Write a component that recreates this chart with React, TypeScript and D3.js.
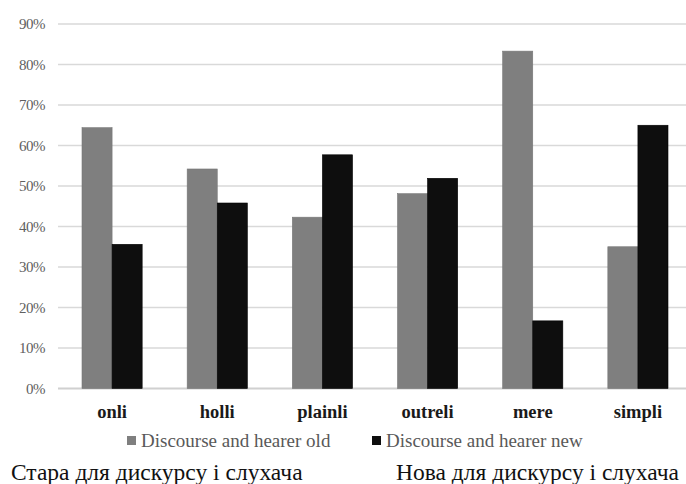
import React from "react";
import * as d3 from "d3";

const categories = ["onli", "holli", "plainli", "outreli", "mere", "simpli"];
const seriesNames = ["Discourse and hearer old", "Discourse and hearer new"];
const oldValues = [64.4, 54.2, 42.3, 48.1, 83.3, 35.0];
const newValues = [35.6, 45.8, 57.7, 51.9, 16.7, 65.0];
const yTicks = [0, 10, 20, 30, 40, 50, 60, 70, 80, 90];
const captions = ["Стара для дискурсу і слухача", "Нова для дискурсу і слухача"];
const colors = ["#7f7f7f", "#0e0e0e"];

const SERIF = "Liberation Serif";

export default function App() {
  const W = 686, H = 484;
  const x = d3.scaleBand<string>().domain(categories).range([59.5, 690.5]).paddingInner(0.428).paddingOuter(0.214);
  const sub = d3.scaleBand<number>().domain([0, 1]).range([0, x.bandwidth()]);
  const y = d3.scaleLinear().domain([0, 90]).range([388.5, 24]);
  const series = [oldValues, newValues];

  return (
    <svg width={W} height={H} style={{ position: "absolute", left: 0, top: 0, background: "#fff" }}>
      {yTicks.map((t) => (
        <g key={t}>
          <line x1={58} x2={W} y1={y(t)} y2={y(t)} stroke={t === 0 ? "#d0d0d0" : "#d9d9d9"} strokeWidth={t === 0 ? 2 : 1.5} />
          <text x={45} y={y(t)} dy="0.35em" textAnchor="end" fontFamily={SERIF} fontSize={15} fill="#606060" letterSpacing={-0.5}>
            {t}%
          </text>
        </g>
      ))}
      {categories.map((c, i) => (
        <g key={c}>
          {series.map((vals, s) => (
            <rect
              key={s}
              x={(x(c) as number) + (sub(s) as number)}
              y={y(vals[i])}
              width={sub.bandwidth()}
              height={y(0) - y(vals[i])}
              fill={colors[s]}
              stroke={s === 0 ? "#777" : "#000"}
              strokeWidth={0.6}
            />
          ))}
          <text x={(x(c) as number) + x.bandwidth() / 2} y={418} textAnchor="middle" fontFamily={SERIF} fontSize={18.5} fontWeight="bold" fill="#1a1a1a">
            {c}
          </text>
        </g>
      ))}
      {seriesNames.map((n, s) => {
        const lx = s === 0 ? 127 : 372;
        return (
          <g key={n}>
            <rect x={lx} y={436} width={9} height={9} fill={colors[s]} />
            <text x={lx + 14} y={446.5} fontFamily={SERIF} fontSize={19} fill="#595959">
              {n}
            </text>
          </g>
        );
      })}
      <text x={11} y={480} fontFamily={SERIF} fontSize={23.5} fill="#111">
        {captions[0]}
      </text>
      <text x={679} y={480} textAnchor="end" fontFamily={SERIF} fontSize={23.5} fill="#111">
        {captions[1]}
      </text>
    </svg>
  );
}
